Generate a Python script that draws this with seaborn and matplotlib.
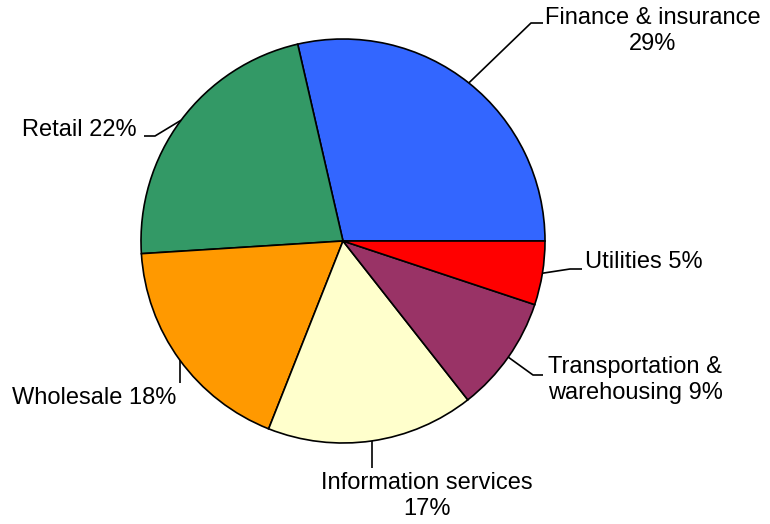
import numpy as np
import matplotlib
matplotlib.use("Agg")
import matplotlib.pyplot as plt
import seaborn as sns

# ---- data ----
categories = ["Finance & insurance", "Retail", "Wholesale",
              "Information services", "Transportation &\nwarehousing", "Utilities"]
shares = [28.6, 22.4, 18.0, 16.6, 9.3, 5.1]
label_texts = ["Finance & insurance\n29%", "Retail 22%", "Wholesale 18%",
               "Information services\n17%", "Transportation &\nwarehousing 9%", "Utilities 5%"]
slice_colors = ["#3366FF", "#339966", "#FF9900", "#FFFFCC", "#993366", "#FF0000"]

sns.set_style("white")
plt.rcParams['font.family'] = ['Liberation Sans', 'DejaVu Sans']

W, H = 770, 524
fig = plt.figure(figsize=(W / 100, H / 100), dpi=100)
ax = fig.add_axes([0, 0, 1, 1])

def Y(y):
    return H - y

cx, cy, R = 343, 241, 202
palette = sns.color_palette(slice_colors)
wedges, _ = ax.pie(shares, colors=palette, startangle=0, counterclock=True,
                   center=(cx, Y(cy)), radius=R,
                   wedgeprops=dict(edgecolor="black", linewidth=1.2))
ax.set_xlim(0, W)
ax.set_ylim(0, H)
ax.set_aspect("equal")
ax.axis("off")

# layout of leader lines (pixel coords, y down): elbow, end; text anchor
layout = [
    dict(elbow=(531, 23), end=(543, 23), txt=(653, 31), ha="center"),
    dict(elbow=(155, 136), end=(144, 136), txt=(137, 130), ha="right"),
    dict(elbow=None, end=(None, 383), txt=(12, 398), ha="left"),
    dict(elbow=None, end=(None, 468), txt=(427, 496), ha="center"),
    dict(elbow=(533, 375), end=(543, 375), txt=(548, 380), ha="left"),
    dict(elbow=(570, 269), end=(582, 269), txt=(585, 262), ha="left"),
]

for w, lay, txt in zip(wedges, layout, label_texts):
    ang = np.deg2rad((w.theta1 + w.theta2) / 2)
    ex = cx + R * np.cos(ang)
    ey = cy - R * np.sin(ang)
    if lay["elbow"] is None:
        xs = [ex, ex]
        ys = [Y(ey), Y(lay["end"][1])]
    else:
        xs = [ex, lay["elbow"][0], lay["end"][0]]
        ys = [Y(ey), Y(lay["elbow"][1]), Y(lay["end"][1])]
    ax.plot(xs, ys, color="black", linewidth=1.2, solid_capstyle="butt")
    ax.text(lay["txt"][0], Y(lay["txt"][1]), txt, ha=lay["ha"], va="center",
            fontsize=17, linespacing=1.2, multialignment=lay["ha"],
            color="black")

fig.savefig("out.png", dpi=100)
